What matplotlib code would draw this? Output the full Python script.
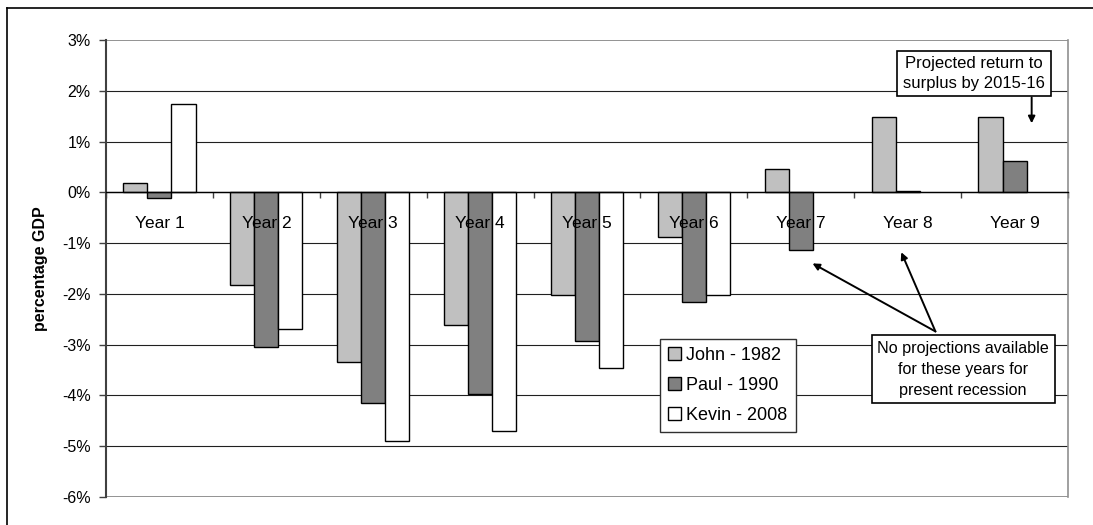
import matplotlib
matplotlib.use("Agg")
import matplotlib.pyplot as plt
from matplotlib.lines import Line2D
from matplotlib.ticker import FixedLocator, FuncFormatter
import numpy as np

plt.rcParams['font.family'] = ['Liberation Sans', 'DejaVu Sans']

# Budget balance (percentage of GDP) by year of recession
years = ["Year 1", "Year 2", "Year 3", "Year 4", "Year 5",
         "Year 6", "Year 7", "Year 8", "Year 9"]
john_1982 = [0.18, -1.82, -3.35, -2.62, -2.02, -0.87, 0.45, 1.48, 1.48]
paul_1990 = [-0.11, -3.05, -4.15, -3.98, -2.93, -2.15, -1.14, 0.03, 0.62]
kevin_2008 = [1.73, -2.70, -4.90, -4.70, -3.45, -2.02]
series_labels = ["John - 1982", "Paul - 1990", "Kevin - 2008"]
series_colors = ["#C0C0C0", "#808080", "#FFFFFF"]
y_ticks = [3, 2, 1, 0, -1, -2, -3, -4, -5, -6]

W, H = 1093, 525
fig = plt.figure(figsize=(W / 100, H / 100), dpi=100)
ax = fig.add_axes([106 / W, 1 - 497 / H, (1068 - 106) / W, (497 - 40) / H])

x = np.arange(len(years))
bw = 0.225
all_series = [john_1982, paul_1990, kevin_2008]
for k, (vals, lab, col) in enumerate(zip(all_series, series_labels, series_colors)):
    xs = x[:len(vals)] + (k - 1) * bw
    ax.bar(xs, vals, width=bw, color=col, edgecolor="black", linewidth=1.0,
           label=lab, zorder=3)

ax.set_xlim(-0.5, len(years) - 0.5)
ax.set_ylim(-6, 3)

# horizontal gridlines; outer ones form the plot frame
for v in y_ticks:
    if v in (3, -6):
        ax.axhline(v, color="#808080", lw=1.2, zorder=1)
    else:
        ax.axhline(v, color="#202020", lw=0.8, zorder=1)

ax.yaxis.set_major_locator(FixedLocator(y_ticks))
ax.yaxis.set_major_formatter(FuncFormatter(lambda v, p: f"{int(round(v))}%"))
ax.tick_params(axis="y", direction="out", length=5, width=1, color="#404040",
               labelsize=11.5, pad=6)

# category axis crossing at zero
ax.spines["bottom"].set_position(("data", 0))
ax.spines["bottom"].set_color("black")
ax.spines["bottom"].set_linewidth(1.0)
ax.spines["bottom"].set_zorder(4)
ax.spines["top"].set_visible(False)
ax.spines["right"].set_color("#909090")
ax.spines["right"].set_linewidth(1.2)
ax.spines["left"].set_color("#404040")
ax.spines["left"].set_linewidth(1.5)

ax.set_xticks(x)
ax.set_xticklabels([])
ax.set_xticks(np.arange(-0.5, len(years)), minor=True)
ax.tick_params(axis="x", which="major", length=0)
ax.tick_params(axis="x", which="minor", direction="out", length=4,
               width=1, color="#404040")

# category names sit on top of the bars
for xi, name in zip(x, years):
    ax.text(xi, -0.62, name, ha="center", va="center", fontsize=12.5, zorder=6)

fig.text(40 / W, 1 - 269 / H, "percentage GDP", rotation=90, ha="center",
         va="center", fontsize=11.5, fontweight="bold")

leg = ax.legend(loc="upper left", bbox_to_anchor=(660 / W, 1 - 339 / H),
                bbox_transform=fig.transFigure, borderaxespad=0,
                frameon=True, fancybox=False, fontsize=13,
                handlelength=0.7, handleheight=0.7, handletextpad=0.3,
                labelspacing=0.72, borderpad=0.45, framealpha=1)
leg.get_frame().set_edgecolor("#303030")
leg.get_frame().set_linewidth(1.0)
leg.set_zorder(7)

box_style = dict(boxstyle="square,pad=0.35", fc="white", ec="black", lw=1.2)
arrow_style = dict(arrowstyle="-|>", color="black", lw=1.4, mutation_scale=10,
                   shrinkA=0, shrinkB=0)

ax.text(7.62, 2.34, "Projected return to\nsurplus by 2015-16", ha="center",
        va="center", fontsize=12, linespacing=1.35, bbox=box_style, zorder=8)
ax.annotate("", xy=(8.16, 1.36), xytext=(8.16, 1.87), arrowprops=arrow_style,
            zorder=8)

ax.text(7.52, -3.48, "No projections available\nfor these years for\npresent recession",
        ha="center", va="center", fontsize=11.6, linespacing=1.5,
        bbox=box_style, zorder=8)
for tip in [(6.11, -1.40), (6.94, -1.18)]:
    ax.annotate("", xy=tip, xytext=(7.26, -2.74), arrowprops=arrow_style,
                zorder=8)

# outer chart frame
fig.add_artist(Line2D([7 / W, 1.0], [1 - 8 / H, 1 - 8 / H],
                      transform=fig.transFigure, color="black", lw=1.2))
fig.add_artist(Line2D([7 / W, 7 / W], [0.0, 1 - 8 / H],
                      transform=fig.transFigure, color="black", lw=1.2))

fig.savefig("out.png", dpi=100)
